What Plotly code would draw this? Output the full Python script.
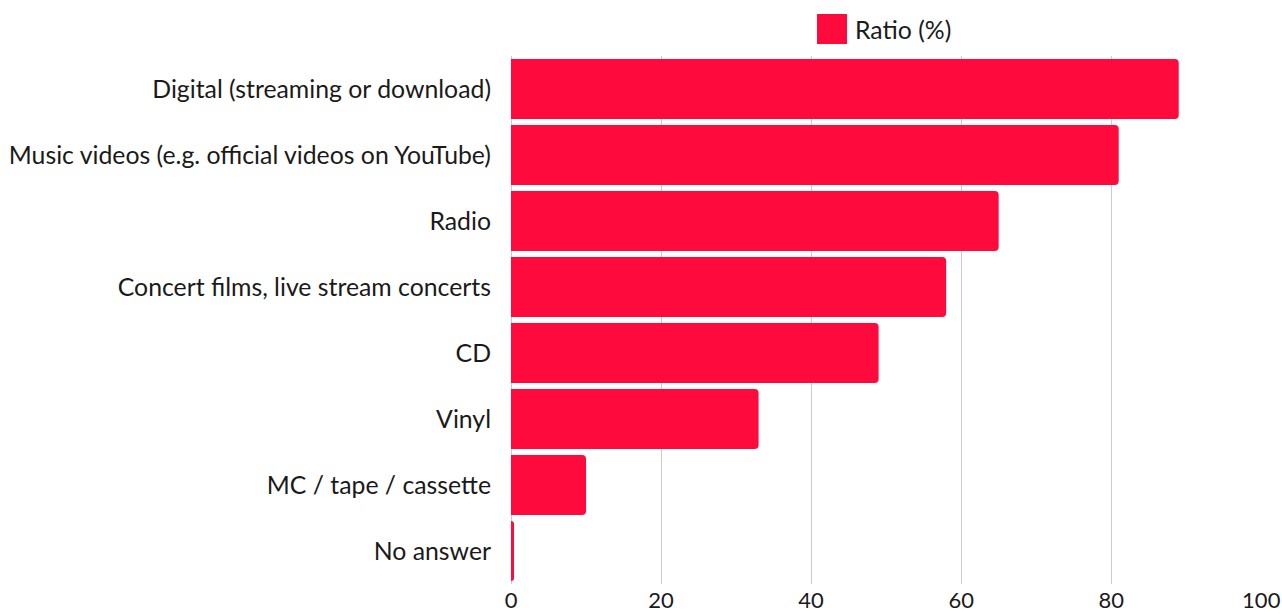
import plotly.graph_objects as go

# Listening formats and share of respondents (%)
categories = [
    "Digital (streaming or download)",
    "Music videos (e.g. official videos on YouTube)",
    "Radio",
    "Concert films, live stream concerts",
    "CD",
    "Vinyl",
    "MC / tape / cassette",
    "No answer",
]
ratio = [89, 81, 65, 58, 49, 33, 10, 0.4]
series_name = "Ratio (%)"
x_ticks = [0, 20, 40, 60, 80, 100]

RED = "#FF0A3C"
FONT = "Source Sans Pro, Lato, sans-serif"
FSIZE = 24.8

fig = go.Figure(
    go.Bar(
        y=categories,
        x=ratio,
        orientation="h",
        name=series_name,
        marker=dict(color=RED, line=dict(width=0)),
        showlegend=False,
    )
)

fig.update_layout(
    width=1282,
    height=614,
    margin=dict(l=511, r=20, t=56, b=30),
    paper_bgcolor="white",
    plot_bgcolor="white",
    font=dict(family=FONT, size=FSIZE, color="#1a1a1a"),
    bargap=0.09,
    barcornerradius=4,
    xaxis=dict(
        range=[0, 100.1],
        tickvals=x_ticks,
        tickfont=dict(size=22),
        ticklabelstandoff=1,
        showgrid=True,
        gridcolor="#cccccc",
        gridwidth=1,
        zeroline=True,
        zerolinecolor="#cccccc",
        zerolinewidth=1,
        ticklabeloverflow="allow",
        automargin=False,
        fixedrange=True,
    ),
    yaxis=dict(
        categoryorder="array",
        categoryarray=categories[::-1],
        ticklabelstandoff=19,
        showgrid=False,
        automargin=False,
        fixedrange=True,
    ),
)

# Legend key: colour square and series name above the plot area
fig.add_shape(
    type="rect", xref="paper", yref="paper",
    x0=(817 - 511) / 751, x1=(847 - 511) / 751,
    y0=1 + (56 - 44) / 528, y1=1 + (56 - 14) / 528,
    fillcolor=RED, line=dict(width=0),
)
fig.add_annotation(
    x=(853 - 511) / 751, y=1 + (56 - 29) / 528,
    xref="paper", yref="paper", xanchor="left", yanchor="middle",
    text=series_name, showarrow=False,
    font=dict(family=FONT, size=FSIZE, color="#1a1a1a"),
)

fig.write_html("out.html")
